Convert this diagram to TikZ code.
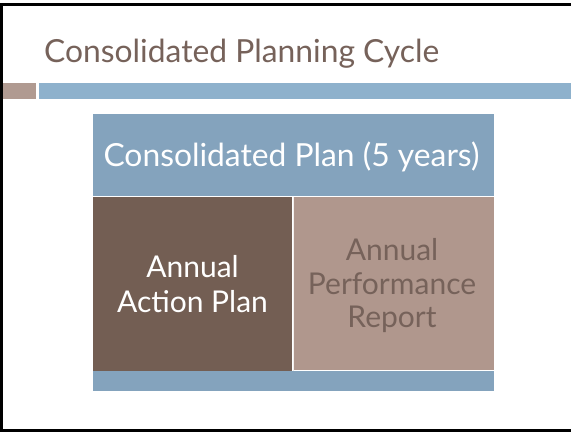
\documentclass[tikz,border=0pt]{standalone}
\usepackage{fontspec}
\setmainfont{Lato}
\definecolor{stripeblue}{HTML}{8EB1CC}
\definecolor{boxblue}{HTML}{84A3BD}
\definecolor{darkbrown}{HTML}{735E53}
\definecolor{lightbrown}{HTML}{B0978D}
\definecolor{textbrown}{HTML}{76625A}
\definecolor{accent}{HTML}{B09A91}
\begin{document}
\begin{tikzpicture}[x=1pt,y=-1pt,
  lbl/.style={align=center,inner sep=0pt,font=\fontsize{30}{35}\selectfont}]
\useasboundingbox (0,0) rectangle (571,432);
\fill[white] (0,0) rectangle (571,432);
% frame
\draw[line width=2.5pt,black] (575,4.5) -- (1.5,4.5) -- (1.5,430.5) -- (575,430.5);
% title
\node[anchor=base west,inner sep=0pt,text=textbrown,font=\fontsize{31.8}{36}\selectfont] (title) at (44,62) {Consolidated Planning Cycle};
% stripes
\fill[accent] (3,83) rectangle (36,99);
\fill[stripeblue] (39,83) rectangle (571,99);
% boxes
\fill[boxblue] (93,114) rectangle (494,196);
\fill[darkbrown] (93,197) rectangle (292,371);
\fill[lightbrown] (294,197) rectangle (494,370);
\fill[boxblue] (93,371) rectangle (494,391);
\draw[white!85!lightbrown,line width=1pt] (293,197) -- (293,371);
\node[anchor=base,inner sep=0pt,text=white,font=\fontsize{31.8}{36}\selectfont] (cp) at (291.5,166) {Consolidated Plan (5 years)};
\node[lbl,text=white,anchor=base] (aap) at (192.5,277) {Annual};
\node[lbl,text=white,anchor=base] (aap2) at (192.5,312) {Action Plan};
\node[lbl,text=textbrown,anchor=base] (apr) at (392,260) {Annual};
\node[lbl,text=textbrown,anchor=base] (apr2) at (392,294) {Performance};
\node[lbl,text=textbrown,anchor=base] (apr3) at (392,327) {Report};
\end{tikzpicture}
\end{document}
